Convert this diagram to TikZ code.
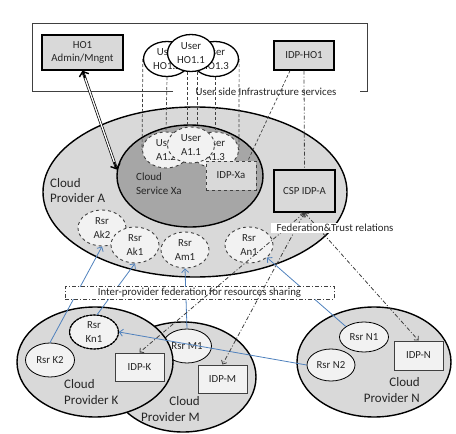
\documentclass[tikz,border=0pt]{standalone}
\usepackage{fontspec}
\setmainfont{Carlito}
\usetikzlibrary{shapes.geometric,arrows.meta,calc}
\definecolor{lg}{HTML}{D9D9D9}
\definecolor{dg}{HTML}{A6A6A6}
\definecolor{wf}{HTML}{F2F2F2}
\definecolor{bl}{HTML}{4F81BD}
\definecolor{tx}{HTML}{262626}
\definecolor{ln}{HTML}{404040}
\pgfdeclarelayer{bg}
\pgfdeclarelayer{lines}
\pgfsetlayers{bg,lines,main}
\begin{document}
\begin{tikzpicture}[x=1pt,y=-1pt,
  every node/.style={font=\fontsize{10.8}{13.5}\selectfont, text=tx, align=center, inner sep=0pt},
  bigell/.style={ellipse, draw=black, line width=1.4pt, fill=lg},
  provlabel/.style={font=\fontsize{13}{15.5}\selectfont},
  userell/.style={ellipse, draw=black, line width=1.3pt, fill=white, minimum width=47pt, minimum height=35pt},
  userA/.style={ellipse, draw=ln, dashed, line width=0.9pt, fill=wf, minimum width=47pt, minimum height=36pt},
  rsrA/.style={ellipse, draw=ln, dashed, line width=0.9pt, fill=wf, minimum width=48pt, minimum height=36pt},
  rsr/.style={ellipse, draw=black, line width=0.8pt, fill=wf, minimum width=49pt, minimum height=34pt},
  hbox/.style={rectangle, draw=black, line width=1.4pt, fill=lg},
  ibox/.style={rectangle, draw=ln, line width=1pt, fill=wf, minimum width=49pt, minimum height=28pt},
  blarr/.style={draw=bl, line width=0.8pt, -{Straight Barb[length=3.5pt,width=7pt]}},
  fed/.style={draw=ln, line width=0.8pt, dash pattern=on 4pt off 2pt on 1pt off 2pt, {Straight Barb[length=3pt,width=6pt]}-{Straight Barb[length=3pt,width=6pt]}},
  udash/.style={draw=ln, line width=0.7pt, dash pattern=on 3pt off 2pt}
]
\useasboundingbox (0,0) rectangle (456,434);

% top frame
\draw[draw=ln, line width=1pt] (173,91) -- (32,91) -- (32,23) -- (367,23) -- (367,91) -- (360,91);
\node (usi) at (266,92) {User side Infrastructure services};

% provider A
\begin{pgfonlayer}{bg}
\node[bigell, minimum width=304pt, minimum height=170pt] (cpA) at (195,192) {};
\node[ellipse, draw=black, line width=1.4pt, fill=dg, minimum width=146pt, minimum height=102pt] (xa) at (190,176) {};
\end{pgfonlayer}
\node[anchor=west, align=left, font=\fontsize{11}{13.5}\selectfont] (xalab) at (136,183.5) {Cloud\\Service Xa};
\node[anchor=west, align=left, provlabel] (cpAlab) at (50,190.5) {Cloud\\Provider A};

% users
\node[userell] (uH2) at (167,59) {User\\HO1.2};
\node[userell] (uH3) at (215,59) {User\\HO1.3};
\node[userell, minimum height=37pt] (uH1) at (191,53) {User\\HO1.1};
\node[userA] (uA2) at (166,150) {User\\A1.2};
\node[userA] (uA3) at (215,150) {User\\A1.3};
\node[userA] (uA1) at (191,145) {User\\A1.1};
\node[rectangle, draw=ln, dashed, line width=1pt, fill=lg, minimum width=50pt, minimum height=29pt] (idpxa) at (231,175.5) {IDP-Xa};

\begin{pgfonlayer}{lines}
\draw[udash] (uH2.west) -- (uA2.west);
\draw[udash] (uH2.south) -- (uA2.north);
\draw[udash] ($(uH1.south)+(-4,0)$) -- ($(uA1.north)+(-4,0)$);
\draw[udash] ($(uH1.south)+(6,0)$) -- ($(uA1.north)+(6,0)$);
\draw[udash] (uH3.south) -- (uA3.north);
\draw[udash] (uH3.east) -- (uA3.east);
\end{pgfonlayer}

% boxes
\node[hbox, minimum width=81pt, minimum height=35pt] (ho1) at (82.5,52.5) {HO1\\Admin/Mngnt};
\node[hbox, minimum width=60pt, minimum height=29pt] (idpho1) at (304,55.5) {IDP-HO1};
\node[hbox, minimum width=61pt, minimum height=42pt] (csp) at (304.5,191) {CSP IDP-A};

% resources in A
\node[rsrA] (rAk2) at (102,228) {Rsr\\Ak2};
\node[rsrA] (rAk1) at (135,245) {Rsr\\Ak1};
\node[rsrA] (rAm1) at (185,250) {Rsr\\Am1};
\node[rsrA] (rAn1) at (249,245) {Rsr\\An1};

% provider M
\node[bigell, minimum width=146pt, minimum height=110pt] (cpM) at (183,377) {};
\node[rsr] (rM1) at (187,346) {Rsr M1};
\node[ibox] (idpM) at (222.5,379) {IDP-M};
\node[anchor=east, align=right, provlabel] (cpMlab) at (200,409) {Cloud\\Provider M};

% provider K
\node[bigell, minimum width=156pt, minimum height=110pt] (cpK) at (95,362) {};
\node[rsr] (rK2) at (50,360) {Rsr K2};
\node[rsr, postaction={draw=black, line width=1.3pt, dash pattern=on 2pt off 1.5pt}] (rKn1) at (94,332) {Rsr\\Kn1};
\node[ibox] (idpK) at (139.5,367) {IDP-K};
\node[anchor=west, align=left, provlabel] (cpKlab) at (64,392) {Cloud\\Provider K};

% provider N
\node[bigell, minimum width=154pt, minimum height=110pt] (cpN) at (374,362) {};
\node[rsr, minimum height=30pt] (rN1) at (364,337) {Rsr N1};
\node[rsr, minimum width=48pt, minimum height=32pt] (rN2) at (331,365) {Rsr N2};
\node[ibox, minimum height=29pt] (idpN) at (418.5,355.5) {IDP-N};
\node[anchor=east, align=right, provlabel] (cpNlab) at (420,390) {Cloud\\Provider N};

% blue resource links
\draw[blarr] (rK2.north) -- (rAk2.south);
\draw[blarr] (rKn1.80) -- (rAk1.south);
\draw[blarr] (rM1.north) -- (rAm1.south);
\draw[blarr] (rN1.150) -- (rAn1.-35);
\draw[blarr] (rN2.west) -- (rKn1.east);

% inter-provider box
\node[rectangle, draw=ln, line width=0.8pt, dash pattern=on 4pt off 2pt on 1pt off 2pt, fill=white, minimum width=269pt, minimum height=12.5pt] (ipf) at (199.5,293) {Inter-provider federation for resources sharing};

% federation links
\draw[fed] (csp.south) -- (idpK.north);
\draw[fed] (csp.south) -- (idpM.north);
\draw[fed] (csp.south) -- (idpN.north);
\draw[draw=ln, line width=0.8pt, dash pattern=on 4pt off 2pt on 1pt off 2pt] (idpho1.south) -- (csp.north);
\draw[udash] ($(idpho1.south)+(-14,0)$) -- ($(idpxa.north)+(17,0)$);

\node[fill=white, inner xsep=6pt, inner ysep=1.5pt] (ftr) at (335,228) {Federation\&Trust relations};

% admin double arrow
\draw[draw=black, line width=0.7pt, double=white, double distance=1.3pt, shorten <=1.5pt, shorten >=1.5pt] (ho1.south) -- (xa.175);
\draw[draw=black, line width=1.4pt, -{Straight Barb[length=4pt,width=10pt]}] ($(ho1.south)!8pt!(xa.175)$) -- (ho1.south);
\draw[draw=black, line width=1.4pt, -{Straight Barb[length=4pt,width=10pt]}] ($(xa.175)!8pt!(ho1.south)$) -- (xa.175);
\end{tikzpicture}
\end{document}
